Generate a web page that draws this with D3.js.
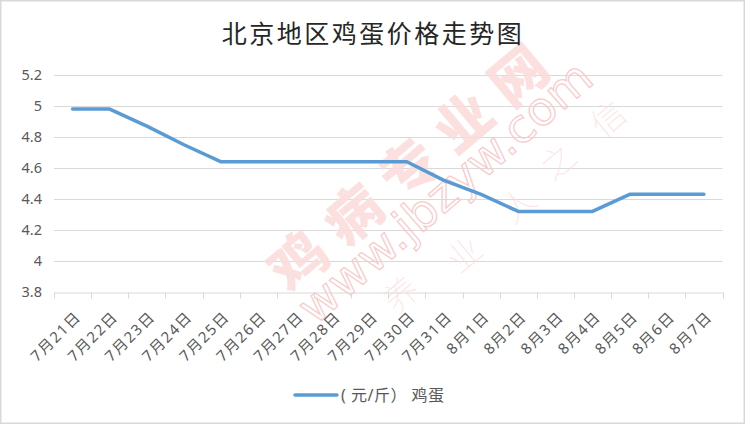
<!DOCTYPE html>
<html><head><meta charset="utf-8">
<script src="https://cdn.jsdelivr.net/npm/d3@7/dist/d3.min.js"></script>
<style>
html,body{margin:0;padding:0;background:#fff;}
svg{display:block;}
</style></head>
<body>
<svg id="chart" width="746" height="425"></svg>
<script>
const categories = ["7月21日","7月22日","7月23日","7月24日","7月25日","7月26日","7月27日","7月28日","7月29日","7月30日","7月31日","8月1日","8月2日","8月3日","8月4日","8月5日","8月6日","8月7日"];
const eggPrices = [4.98,4.98,4.87,4.75,4.64,4.64,4.64,4.64,4.64,4.64,4.52,4.43,4.32,4.32,4.32,4.43,4.43,4.43];
const yTicks = [3.8,4,4.2,4.4,4.6,4.8,5,5.2];
const yTickLabels = ["3.8","4","4.2","4.4","4.6","4.8","5","5.2"];
const titleText = "北京地区鸡蛋价格走势图";
const seriesName = "( 元/斤） 鸡蛋";
const wmMain = "鸡病专业网";
const wmUrl = "www.jbzyw.com";
const wmSmall = ["养","业","人","之","信"];

const svg = d3.select("#chart");
const W = 746, H = 425;
const m = {left:54, right:746-722.5, top:75, bottom:425-292};

svg.append("rect").attr("x",0.75).attr("y",0.75).attr("width",W-2.5).attr("height",H-2.5)
  .attr("fill","#fff").attr("stroke","#d9d9d9").attr("stroke-width",1.5);

const x = d3.scaleBand().domain(categories).range([m.left, W-m.right]);
const y = d3.scaleLinear().domain([3.8,5.2]).range([H-m.bottom, m.top]);

// gridlines
svg.append("g").selectAll("line").data(yTicks.slice(1)).join("line")
  .attr("x1",m.left).attr("x2",W-m.right)
  .attr("y1",d=>Math.round(y(d))+0.5).attr("y2",d=>Math.round(y(d))+0.5)
  .attr("stroke","#d9d9d9").attr("stroke-width",1);

// watermark
const wm = svg.append("g").attr("pointer-events","none");
wm.append("text").attr("transform","translate(412,160) rotate(-40)")
  .attr("text-anchor","middle").attr("dominant-baseline","central")
  .attr("font-family","Noto Sans CJK SC").attr("font-weight",900).attr("font-size",56)
  .attr("letter-spacing",16)
  .attr("fill","#fbdada").attr("fill-opacity",0.85).text(wmMain);
wm.append("text").attr("transform","translate(445,192) rotate(-41)")
  .attr("text-anchor","middle").attr("dominant-baseline","central")
  .attr("font-family","DejaVu Sans").attr("font-size",46)
  .attr("textLength",372).attr("lengthAdjust","spacingAndGlyphs")
  .attr("fill","none").attr("stroke","#f8caca").attr("stroke-width",1.2).text(wmUrl);
const smallPos = [[400,293],[463,253],[517,203],[557,160],[607,117]];
wm.selectAll("text.s").data(wmSmall).join("text").attr("class","s")
  .attr("transform",(d,i)=>`translate(${smallPos[i][0]},${smallPos[i][1]}) rotate(-40)`)
  .attr("text-anchor","middle").attr("dominant-baseline","central")
  .attr("font-family","Noto Sans CJK SC").attr("font-weight",100).attr("font-size",34)
  .attr("fill","#fbdcdc").attr("fill-opacity",0.8).text(d=>d);

// x axis
const xAxis = d3.axisBottom(x).tickSize(0).tickFormat("");
const ax = svg.append("g").attr("transform",`translate(0,${Math.round(y(3.8))+0.5})`).call(xAxis);
ax.select(".domain").attr("stroke","#d9d9d9").attr("stroke-width",1);
const bounds = categories.map(c=>x(c)).concat([x(categories[categories.length-1])+x.bandwidth()]);
ax.selectAll("line.b").data(bounds).join("line").attr("class","b")
  .attr("x1",d=>Math.round(d)+0.5).attr("x2",d=>Math.round(d)+0.5).attr("y1",0).attr("y2",6)
  .attr("stroke","#d9d9d9");
ax.selectAll("text.lbl").data(categories).join("text").attr("class","lbl")
  .attr("transform",d=>`translate(${x(d)+x.bandwidth()/2+5},${21}) rotate(-45)`)
  .attr("text-anchor","end").attr("dominant-baseline","central")
  .attr("font-family","Noto Sans, Noto Sans CJK SC").attr("font-size",15)
  .attr("letter-spacing",1.5)
  .attr("fill","#595959").text(d=>d);

// y axis labels
const yAxis = d3.axisLeft(y).tickValues(yTicks).tickSize(0).tickPadding(0)
  .tickFormat((d,i)=>yTickLabels[i]);
const ay = svg.append("g").attr("transform",`translate(42,0)`).call(yAxis);
ay.select(".domain").remove();
ay.selectAll("text").attr("font-family","Noto Sans, Noto Sans CJK SC").attr("font-size",14.5)
  .attr("fill","#595959");

// line
const line = d3.line().x((d,i)=>x(categories[i])+x.bandwidth()/2).y(d=>y(d));
svg.append("path").datum(eggPrices).attr("d",line)
  .attr("fill","none").attr("stroke","#5b9bd5").attr("stroke-width",3.5)
  .attr("stroke-linejoin","round").attr("stroke-linecap","round");

// title
svg.append("text").attr("x",373).attr("y",43).attr("text-anchor","middle")
  .attr("font-family","Noto Sans CJK SC").attr("font-size",25).attr("letter-spacing",2.5)
  .attr("fill","#262626").text(titleText);

// legend
const lg = svg.append("g");
lg.append("line").attr("x1",295).attr("x2",337).attr("y1",395).attr("y2",395)
  .attr("stroke","#5b9bd5").attr("stroke-width",3.5).attr("stroke-linecap","round");
lg.append("text").attr("x",341).attr("y",395).attr("dominant-baseline","central")
  .attr("font-family","Noto Sans, Noto Sans CJK SC").attr("font-size",16)
  .attr("letter-spacing",0.5)
  .attr("fill","#595959").text(seriesName);
</script>
</body></html>
